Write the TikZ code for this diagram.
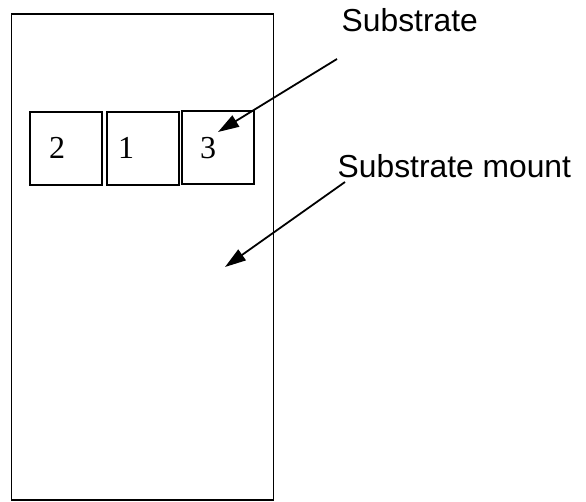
\documentclass[tikz,border=0pt]{standalone}
\usepackage{fontspec}
\setmainfont{Liberation Serif}
\newfontfamily\labelfont{Liberation Sans}
\usetikzlibrary{arrows.meta}
\begin{document}
\begin{tikzpicture}[x=1pt,y=-1pt,
  outline/.style={draw=black,line width=1.8pt},
  cell/.style={draw=black,line width=1.8pt,minimum width=72pt,minimum height=73pt,inner sep=0pt,anchor=north west},
  digit/.style={anchor=base west,inner sep=0pt,font=\fontsize{32}{38}\selectfont},
  lbl/.style={anchor=base west,inner sep=0pt,font=\labelfont\fontsize{31.8}{38}\selectfont},
  pointer/.style={draw=black,line width=1.8pt,-{Triangle[length=21pt,width=13pt]}}]
\useasboundingbox (0,0) rectangle (586,502);
\fill[white] (0,0) rectangle (586,502);
\draw[outline] (11.5,14) rectangle (273.5,500);
\node[cell] (c2) at (29,111.5) {};
\node[cell] (c1) at (106,111) {};
\node[cell] (c3) at (181,110.5) {};
\node[digit] (d2) at (49,158.5) {2};
\node[digit] (d1) at (118,158.5) {1};
\node[digit] (d3) at (200,158.5) {3};
\node[lbl] (sub) at (341.5,32) {Substrate};
\node[lbl] (mount) at (337.5,178) {Substrate mount};
\coordinate (s1) at (337,59);
\coordinate (t1) at (218,132);
\coordinate (s2) at (345,182);
\coordinate (t2) at (225,267);
\draw[pointer] (s1) -- (t1);
\draw[pointer] (s2) -- (t2);
\end{tikzpicture}
\end{document}
